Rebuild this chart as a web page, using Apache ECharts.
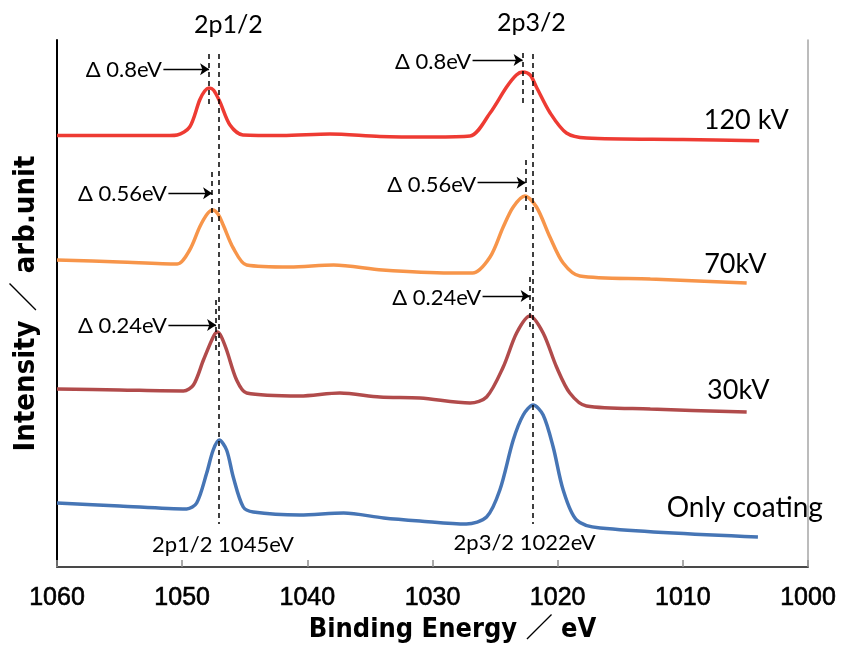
<!DOCTYPE html>
<html>
<head>
<meta charset="utf-8">
<script src="https://cdn.jsdelivr.net/npm/echarts@6/dist/echarts.min.js"></script>
<style>
  html, body { margin: 0; padding: 0; background: #fff; }
  #chart { width: 843px; height: 650px; }
</style>
</head>
<body>
<div id="chart"></div>
<script>
// Binding energy (eV) and intensity (arb. units, each sample offset vertically)
const e120 = [1060, 1055, 1051, 1050.4, 1049.4, 1048.6, 1048.2, 1047.86, 1047.5, 1046.98, 1046.18, 1045.14, 1042, 1038.2, 1034.2, 1030, 1027.0, 1025.4, 1024.08, 1023.3, 1022.8, 1022.2, 1021.7, 1020.6, 1019.3, 1017.7, 1010, 1003.9];
const i120 = [431.5, 431.5, 431.5, 432, 440, 467, 476, 479, 477, 465, 442, 432, 431.5, 433, 430.5, 430, 431, 454, 480, 492, 495, 492, 480, 454, 434, 429, 427.5, 426.3];

const e70 = [1060, 1055, 1050.4, 1049.4, 1048.6, 1048.0, 1047.56, 1047.14, 1046.72, 1045.92, 1044.85, 1041.4, 1037.9, 1034, 1028.6, 1026.8, 1025.4, 1024.35, 1023.55, 1022.62, 1021.69, 1020.62, 1019.56, 1018.23, 1012.6, 1004.9];
const i70 = [307, 305, 303, 317, 340, 353, 357, 353, 342, 319, 302, 300, 302, 297, 294, 294, 310, 340, 360, 371, 360, 330, 304, 291, 288, 284];

const e30 = [1060, 1055, 1049.9, 1049.1, 1048.3, 1047.52, 1047.2, 1046.9, 1046.45, 1045.65, 1044.85, 1040.6, 1037.4, 1034.2, 1031, 1027, 1025.68, 1024.35, 1023.28, 1022.22, 1021.16, 1020.09, 1019.03, 1017.7, 1012.6, 1004.9];
const i30 = [178, 177, 176, 182, 207, 230, 235, 231, 217, 187, 174, 171, 174, 170, 169, 164, 170, 200, 234, 251, 234, 200, 174, 161, 158, 155];

const eCoat = [1060, 1055, 1049.64, 1048.84, 1048.04, 1047.52, 1047.04, 1046.45, 1045.92, 1045.12, 1044.32, 1040.6, 1037.1, 1033.9, 1031, 1027.3, 1025.68, 1024.62, 1023.55, 1022.75, 1021.96, 1021.16, 1020.36, 1019.56, 1018.49, 1016.6, 1004];
const iCoat = [64, 61, 58, 64, 94, 117, 127, 117, 90, 60, 55, 52, 54, 49, 46, 43, 50, 77, 127, 152, 162, 152, 120, 77, 47, 39, 30];

// Axis range and tick step
const xMin = 1000, xMax = 1060, xStep = 10;
const yMin = 0, yMax = 527;

// Sample names and peak annotations
const sampleNames = ['120 kV', '70kV', '30kV', 'Only coating'];
const peakNames = ['2p1/2', '2p3/2'];
const refPeaks = [1047.05, 1022.0];            // peak positions of the coating-only spectrum
const refLabels = ['2p1/2 1045eV', '2p3/2 1022eV'];
const shifts = [0.8, 0.56, 0.24];             // peak shift for 120 kV, 70 kV, 30 kV
const shiftLabels = ['Δ 0.8eV', 'Δ 0.56eV', 'Δ 0.24eV'];

const colors = ['#EE3B33', '#F7954A', '#B14B4B', '#4675B5'];
const textFont = 'Lato, "Noto Sans", sans-serif';
const titleFont = '"DejaVu Sans Condensed", "DejaVu Sans", "Noto Sans CJK JP", sans-serif';

// Layout of the annotation marks, in axis units
const shiftSpans = [[[513, 462], [514, 464]], [[395, 344], [407, 357]], [[267, 215], [290, 240]]];
const arrowY = [[497.7, 507], [373.7, 384.3], [242, 271]];
const arrowFrom = [[1051.5, 1026.8], [1051.1, 1026.4], [1051.1, 1026.0]];
const nameAnchors = [[1004.93, 447], [1005.8, 303], [1005.57, 177], [1005.05, 59]];
const refLabelAnchors = [[1046.74, 22], [1022.64, 23.7]];

const pairs = (e, v) => e.map((x, k) => [x, v[k]]);
const seriesData = [pairs(e120, i120), pairs(e70, i70), pairs(e30, i30), pairs(eCoat, iCoat)];

const dashStyle = { color: '#000', width: 1.5, type: [5, 4] };
const markLines = [];
refPeaks.forEach(x => {
  markLines.push([{ coord: [x, 513], lineStyle: dashStyle, symbol: 'none' }, { coord: [x, 43], symbol: 'none' }]);
});
shifts.forEach((d, s) => {
  refPeaks.forEach((x0, p) => {
    const x = x0 + d;
    const [y1, y2] = shiftSpans[s][p];
    markLines.push([{ coord: [x, y1], lineStyle: dashStyle, symbol: 'none' }, { coord: [x, y2], symbol: 'none' }]);
    markLines.push([
      { coord: [arrowFrom[s][p], arrowY[s][p]], lineStyle: { color: '#000', width: 1.3, type: 'solid' }, symbol: 'none' },
      { coord: [x, arrowY[s][p]], symbol: 'arrow', symbolSize: 9 }
    ]);
  });
});

const markPoints = [];
shifts.forEach((d, s) => {
  refPeaks.forEach((x0, p) => {
    markPoints.push({
      coord: [arrowFrom[s][p], arrowY[s][p]],
      label: { show: true, position: 'left', distance: 1, offset: [0, p === 1 ? 2 : 1], formatter: shiftLabels[s], color: '#000', fontSize: 22, fontFamily: textFont }
    });
  });
});
sampleNames.forEach((n, k) => {
  markPoints.push({
    coord: nameAnchors[k],
    label: { show: true, position: 'inside', formatter: n, color: '#000', fontSize: k === 3 ? 28 : 27, fontFamily: textFont }
  });
});
refLabels.forEach((t, k) => {
  markPoints.push({
    coord: refLabelAnchors[k],
    label: { show: true, position: 'inside', formatter: t, color: '#000', fontSize: 22, fontFamily: textFont }
  });
});

const series = seriesData.map((d, k) => ({
  name: sampleNames[k],
  type: 'line',
  data: d,
  smooth: 0.3,
  showSymbol: false,
  symbol: 'none',
  lineStyle: { color: colors[k], width: 3.5 },
  z: 2
}));
series[3].markLine = { silent: true, symbol: 'none', label: { show: false }, data: markLines, animation: false };
series[3].markPoint = { silent: true, symbol: 'circle', symbolSize: 1, itemStyle: { color: 'rgba(0,0,0,0)' }, data: markPoints, animation: false };

const chart = echarts.init(document.getElementById('chart'));
chart.setOption({
  animation: false,
  backgroundColor: '#fff',
  grid: { left: 57, right: 35, top: 40, bottom: 83, containLabel: false },
  xAxis: [{
    type: 'value', inverse: true, min: xMin, max: xMax, interval: xStep,
    axisLine: { show: true, lineStyle: { color: '#8f8f8f', width: 2 } },
    axisTick: { show: true, inside: true, length: 7, lineStyle: { color: '#8f8f8f', width: 1.5 } },
    axisLabel: {
      color: '#000', fontSize: 25, fontFamily: '"Liberation Sans", Arial, sans-serif', margin: 19,
      textBorderColor: '#000', textBorderWidth: 0.6, formatter: v => String(v)
    },
    splitLine: { show: false },
    name: 'Binding Energy ／ eV', nameLocation: 'middle', nameGap: 45,
    nameTextStyle: { color: '#000', fontSize: 27, fontWeight: 'bold', fontFamily: titleFont, padding: [0, 0, 0, 40] }
  }, {
    type: 'value', inverse: true, min: xMin, max: xMax, position: 'top',
    axisLine: { show: true, lineStyle: { color: '#333', width: 1.5 } },
    axisTick: { show: false }, axisLabel: { show: false }, splitLine: { show: false }
  }],
  yAxis: [{
    type: 'value', min: yMin, max: yMax,
    axisLine: { show: true, lineStyle: { color: '#000', width: 2 } },
    axisTick: { show: false }, axisLabel: { show: false }, splitLine: { show: false },
    name: 'Intensity ／ arb.unit', nameLocation: 'middle', nameGap: 16,
    nameTextStyle: { color: '#000', fontSize: 29, fontWeight: 'bold', fontFamily: titleFont }
  }, {
    type: 'value', min: yMin, max: yMax, position: 'right',
    axisLine: { show: true, lineStyle: { color: '#a6a6a6', width: 1.5 } },
    axisTick: { show: false }, axisLabel: { show: false }, splitLine: { show: false }
  }],
  graphic: [
    { type: 'text', left: 228 - 34, top: 12, style: { text: peakNames[0], fontSize: 25, fontFamily: textFont, fill: '#000' } },
    { type: 'text', left: 531 - 34, top: 10, style: { text: peakNames[1], fontSize: 25, fontFamily: textFont, fill: '#000' } }
  ],
  series: series
});
</script>
</body>
</html>
